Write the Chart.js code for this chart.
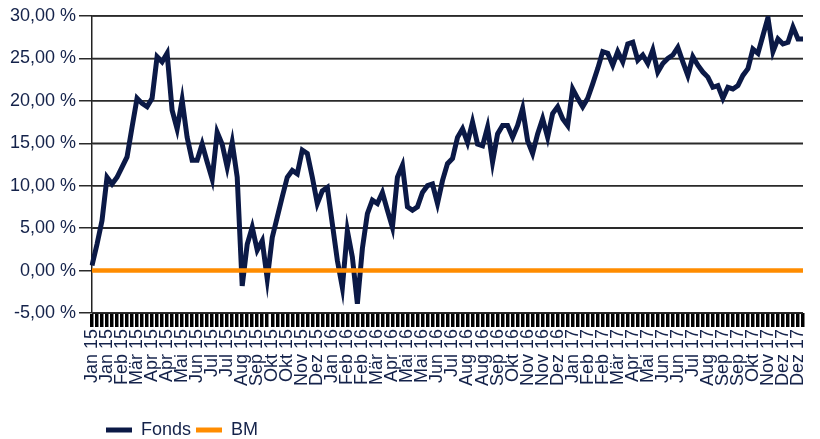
<!DOCTYPE html>
<html>
<head>
<meta charset="utf-8">
<script src="https://cdn.jsdelivr.net/npm/chart.js@4.4.0/dist/chart.umd.min.js"></script>
<style>
  html, body { margin: 0; padding: 0; background: #fff; }
  #wrap { width: 820px; height: 439px; position: relative; }
</style>
</head>
<body>
<div id="wrap"><canvas id="perfChart"></canvas></div>
<script>
  // Achsenbeschriftung (jeder 3. Datenpunkt bekommt ein Label)
  const tickLabels = [
    'Jan 15','Jan 15','Feb 15','Mär 15','Apr 15','Apr 15','Mai 15','Jun 15','Jul 15','Jul 15','Aug 15','Sep 15','Okt 15','Okt 15','Nov 15','Dez 15',
    'Jan 16','Feb 16','Feb 16','Mär 16','Apr 16','Mai 16','Mai 16','Jun 16','Jul 16','Aug 16','Aug 16','Sep 16','Okt 16','Nov 16','Nov 16','Dez 16',
    'Jan 17','Feb 17','Feb 17','Mär 17','Apr 17','Mai 17','Jun 17','Jun 17','Jul 17','Aug 17','Sep 17','Sep 17','Okt 17','Nov 17','Dez 17','Dez 17'
  ];
  const labelStep = 3;

  // Wertentwicklung in %
  const fonds = [
    0.6, 3.1, 5.9, 11.0, 10.2, 11.0, 12.2, 13.4, 16.9, 20.3,
    19.7, 19.3, 20.3, 25.2, 24.6, 25.6, 18.9, 16.7, 20.1, 15.7,
    13.0, 13.0, 14.9, 12.8, 10.8, 16.3, 14.9, 12.2, 15.1, 11.0,
    -1.8, 3.1, 5.1, 2.4, 3.5, -1.0, 3.9, 6.3, 8.7, 11.0,
    11.8, 11.4, 14.2, 13.8, 11.0, 7.9, 9.4, 9.8, 5.5, 1.2,
    -2.0, 4.7, 1.6, -3.9, 2.6, 6.7, 8.3, 7.9, 9.2, 7.1,
    5.1, 11.0, 12.4, 7.5, 7.1, 7.5, 9.2, 10.0, 10.2, 7.9,
    10.6, 12.6, 13.2, 15.7, 16.7, 15.1, 17.5, 14.9, 14.7, 16.9,
    12.8, 16.1, 17.1, 17.1, 15.7, 17.1, 19.1, 15.3, 13.8, 16.1,
    17.9, 15.7, 18.5, 19.3, 17.9, 17.1, 21.4, 20.3, 19.3, 20.3,
    22.0, 23.8, 25.8, 25.6, 24.2, 25.8, 24.6, 26.7, 26.9, 24.8,
    25.4, 24.4, 26.0, 23.4, 24.4, 25.0, 25.4, 26.3, 24.6, 23.0,
    25.2, 24.2, 23.4, 22.8, 21.6, 21.8, 20.3, 21.6, 21.4, 21.8,
    23.0, 23.8, 26.1, 25.6, 27.7, 29.8, 25.8, 27.3, 26.7, 26.9,
    28.7, 27.3, 27.3
  ];

  const bm = [
    0, 0, 0, 0, 0, 0, 0, 0, 0, 0,
    0, 0, 0, 0, 0, 0, 0, 0, 0, 0,
    0, 0, 0, 0, 0, 0, 0, 0, 0, 0,
    0, 0, 0, 0, 0, 0, 0, 0, 0, 0,
    0, 0, 0, 0, 0, 0, 0, 0, 0, 0,
    0, 0, 0, 0, 0, 0, 0, 0, 0, 0,
    0, 0, 0, 0, 0, 0, 0, 0, 0, 0,
    0, 0, 0, 0, 0, 0, 0, 0, 0, 0,
    0, 0, 0, 0, 0, 0, 0, 0, 0, 0,
    0, 0, 0, 0, 0, 0, 0, 0, 0, 0,
    0, 0, 0, 0, 0, 0, 0, 0, 0, 0,
    0, 0, 0, 0, 0, 0, 0, 0, 0, 0,
    0, 0, 0, 0, 0, 0, 0, 0, 0, 0,
    0, 0, 0, 0, 0, 0, 0, 0, 0, 0,
    0, 0, 0
  ];

  const navy = '#0b1946';
  const orange = '#ff8c00';
  const textColor = '#14224a';
  const gridColor = '#2a2a2a';

  // Kategorien: leere Strings zwischen den beschrifteten Punkten
  const labels = fonds.map((v, i) => (i % labelStep === 0 ? (tickLabels[i / labelStep] || '') : ''));

  Chart.defaults.font.family = "'Liberation Sans', Arial, sans-serif";
  Chart.defaults.font.size = 18;
  Chart.defaults.color = textColor;

  // Legende unten links versetzen
  const legendShift = {
    id: 'legendShift',
    afterLayout(chart) {
      const lg = chart.legend;
      if (!lg) return;
      lg.left += 101;
      lg.right += 101;
      lg.top += 10;
      lg.bottom += 10;
    }
  };

  // horizontale Gitterlinien an den y-Ticks
  const yGridLines = {
    id: 'yGridLines',
    beforeDatasetsDraw(chart) {
      const { ctx, chartArea, scales } = chart;
      const y = scales.y;
      ctx.save();
      ctx.strokeStyle = gridColor;
      ctx.lineWidth = 1.5;
      y.ticks.forEach(t => {
        const py = y.getPixelForValue(t.value);
        ctx.beginPath();
        ctx.moveTo(chartArea.left, py);
        ctx.lineTo(chartArea.right, py);
        ctx.stroke();
      });
      ctx.restore();
    }
  };

  const ctx = document.getElementById('perfChart').getContext('2d');
  new Chart(ctx, {
    type: 'line',
    data: {
      labels: labels,
      datasets: [{
        label: 'Fonds',
        data: fonds,
        borderColor: navy,
        backgroundColor: navy,
        borderWidth: 5,
        pointRadius: 0,
        tension: 0,
        order: 1
      }, {
        label: 'BM',
        data: bm,
        borderColor: orange,
        backgroundColor: orange,
        borderWidth: 4.5,
        pointRadius: 0,
        tension: 0,
        order: 0
      }]
    },
    options: {
      responsive: true,
      maintainAspectRatio: false,
      animation: false,
      layout: { padding: { top: 16, right: 17, left: 0, bottom: 0 } },
      plugins: {
        title: { display: false },
        tooltip: { enabled: false },
        legend: {
          position: 'bottom',
          align: 'start',
          labels: {
            boxWidth: 26,
            boxHeight: 5,
            padding: 5,
            color: textColor,
            sort: (a, b) => a.datasetIndex - b.datasetIndex,
            generateLabels: function(chart) {
              const items = Chart.defaults.plugins.legend.labels.generateLabels(chart);
              items.forEach(it => { it.lineWidth = 0; it.fillStyle = it.strokeStyle; });
              return items;
            }
          }
        }
      },
      scales: {
        x: {
          afterFit: function(scale) {
            scale.height = 93;
            scale.paddingRight = 17;
            scale.paddingLeft = 0;
          },
          border: { display: true, color: '#000', width: 1 },
          grid: {
            display: true,
            drawOnChartArea: false,
            drawTicks: true,
            tickLength: 14,
            color: '#000',
            lineWidth: 3.5
          },
          ticks: {
            autoSkip: false,
            minRotation: 90,
            maxRotation: 90,
            padding: 2,
            color: textColor
          }
        },
        y: {
          min: -5,
          max: 30,
          afterFit: function(scale) { scale.width = 92; },
          border: { display: true, color: '#222', width: 1.5 },
          grid: {
            display: true,
            drawOnChartArea: true,
            drawTicks: true,
            color: gridColor,
            tickColor: gridColor,
            lineWidth: 1.5,
            tickLength: 13
          },
          ticks: {
            stepSize: 5,
            padding: 3,
            color: textColor,
            callback: function(value) {
              return value.toFixed(2).replace('.', ',') + ' %';
            }
          }
        }
      }
    },
    plugins: [legendShift, yGridLines]
  });
</script>
</body>
</html>
